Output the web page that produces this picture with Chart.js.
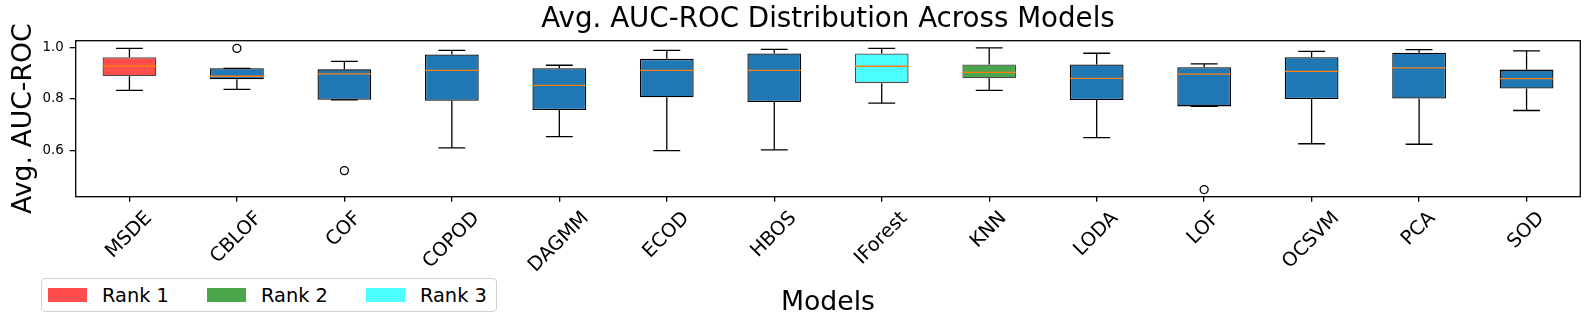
<!DOCTYPE html>
<html>
<head>
<meta charset="utf-8">
<script src="https://cdn.jsdelivr.net/npm/chart.js@4.4.0/dist/chart.umd.min.js"></script>
<style>
  html, body { margin: 0; padding: 0; background: #fff; }
  #wrap { position: relative; width: 1590px; height: 326px; }
  #legend {
    position: absolute; left: 41px; top: 278px; width: 456px; height: 34px; box-sizing: border-box;
    border: 1px solid #d0d0d0; border-radius: 4px; background: #fff;
    display: flex; align-items: center; padding: 0 0 0 6px;
    font-family: 'DejaVu Sans'; font-size: 19.4px; color: #000;
  }
  .item { display: flex; align-items: center; margin-right: 38px; }
  .item:last-child { margin-right: 0; }
  .sw { width: 39px; height: 14px; margin-right: 15px; }
</style>
</head>
<body>
<div id="wrap">
  <canvas id="chart" width="1590" height="326"></canvas>
  <div id="legend"></div>
</div>
<script>
// Avg. AUC-ROC box plot per model

const models = ['MSDE', 'CBLOF', 'COF', 'COPOD', 'DAGMM', 'ECOD', 'HBOS', 'IForest', 'KNN', 'LODA', 'LOF', 'OCSVM', 'PCA', 'SOD'];
const whiskerLow  = [0.834, 0.838, 0.797, 0.609, 0.653, 0.598, 0.601, 0.784, 0.834, 0.649, 0.771, 0.625, 0.623, 0.755];
const q1          = [0.889, 0.877, 0.797, 0.793, 0.757, 0.807, 0.788, 0.862, 0.881, 0.796, 0.771, 0.800, 0.802, 0.841];
const medians     = [0.928, 0.889, 0.898, 0.912, 0.853, 0.912, 0.912, 0.928, 0.904, 0.881, 0.897, 0.908, 0.922, 0.880];
const q3          = [0.963, 0.920, 0.916, 0.974, 0.920, 0.957, 0.978, 0.978, 0.935, 0.935, 0.924, 0.963, 0.981, 0.915];
const whiskerHigh = [0.998, 0.920, 0.947, 0.990, 0.932, 0.990, 0.994, 0.998, 1.000, 0.979, 0.937, 0.986, 0.993, 0.988];
const outlierModels = ['CBLOF', 'COF', 'LOF'];
const outlierValues = [0.998, 0.520, 0.446];
const yTicks = [0.6, 0.8, 1.0];

const rankModels = ['MSDE', 'KNN', 'IForest'];
const rankLabels = ['Rank 1', 'Rank 2', 'Rank 3'];
const rankColors = ['rgba(255,0,0,0.7)', 'rgba(0,128,0,0.7)', 'rgba(0,255,255,0.7)'];
const defaultColor = '#1f77b4';

const FONT = 'DejaVu Sans';
const XTICK_SIZE = 19.4;
Chart.defaults.font.family = FONT;
Chart.defaults.color = '#000';

const boxFill = models.map(m => {
  const r = rankModels.indexOf(m);
  return r >= 0 ? rankColors[r] : defaultColor;
});
const boxEdge = models.map(m => rankModels.includes(m) ? 'rgba(0,0,0,0.7)' : '#000');

// whiskers, caps, medians, frame and rotated x labels
const boxExtras = {
  id: 'boxExtras',
  afterDatasetsDraw(chart) {
    const { ctx, chartArea: a, scales: { x, y } } = chart;
    const bars = chart.getDatasetMeta(0).data;
    ctx.save();
    ctx.lineWidth = 1.3;
    models.forEach((m, i) => {
      const cx = bars[i].x;
      const half = bars[i].width / 2;
      const cap = half / 2;
      const yHi = y.getPixelForValue(whiskerHigh[i]);
      const yLo = y.getPixelForValue(whiskerLow[i]);
      ctx.strokeStyle = '#000';
      ctx.beginPath();
      ctx.moveTo(cx, y.getPixelForValue(q3[i])); ctx.lineTo(cx, yHi);
      ctx.moveTo(cx, y.getPixelForValue(q1[i])); ctx.lineTo(cx, yLo);
      ctx.moveTo(cx - cap, yHi); ctx.lineTo(cx + cap, yHi);
      ctx.moveTo(cx - cap, yLo); ctx.lineTo(cx + cap, yLo);
      ctx.stroke();
      const ym = y.getPixelForValue(medians[i]);
      ctx.strokeStyle = '#ff7f0e';
      ctx.beginPath();
      ctx.moveTo(cx - half, ym); ctx.lineTo(cx + half, ym);
      ctx.stroke();
    });

    ctx.strokeStyle = '#000';
    ctx.strokeRect(a.left, a.top, a.right - a.left, a.bottom - a.top);

    // 45deg labels, rotated box centred under the tick, top just below the tick mark
    ctx.font = XTICK_SIZE + 'px "' + FONT + '"';
    ctx.fillStyle = '#000';
    ctx.textAlign = 'center';
    ctx.textBaseline = 'alphabetic';
    const lineH = XTICK_SIZE * 1.17;
    const top = a.bottom + 10;
    models.forEach((m, i) => {
      const w = ctx.measureText(m).width;
      const side = (w + lineH) * Math.SQRT1_2;
      ctx.save();
      ctx.translate(x.getPixelForValue(i) - 1, top + side / 2);
      ctx.rotate(-Math.PI / 4);
      ctx.fillText(m, 0, XTICK_SIZE * 0.3);
      ctx.restore();
    });
    ctx.restore();
  }
};

new Chart(document.getElementById('chart'), {
  type: 'bar',
  data: {
    labels: models,
    datasets: [
      {
        data: models.map((m, i) => [q1[i], q3[i]]),
        backgroundColor: boxFill,
        borderColor: boxEdge,
        borderWidth: 1.3,
        borderSkipped: false,
        categoryPercentage: 1,
        barPercentage: 0.5,
      },
      {
        type: 'scatter',
        data: outlierModels.map((m, i) => ({ x: m, y: outlierValues[i] })),
        pointRadius: 4,
        pointBorderWidth: 1.3,
        pointBorderColor: '#000',
        pointBackgroundColor: 'rgba(0,0,0,0)',
      },
    ],
  },
  options: {
    responsive: false,
    animation: false,
    events: [],
    layout: { padding: { left: 0, right: 9.7, top: 0, bottom: 0 } },
    plugins: {
      legend: { display: false },
      tooltip: { enabled: false },
      title: {
        display: true,
        fullSize: false,
        text: 'Avg. AUC-ROC Distribution Across Models',
        color: '#000',
        font: { size: 27.7, weight: 'normal' },
        padding: { top: 3.5, bottom: 3.96 },
      },
    },
    scales: {
      x: {
        type: 'category',
        offset: true,
        border: { display: false },
        grid: { offset: false, drawOnChartArea: false, drawTicks: true, tickLength: 5, color: '#000', lineWidth: 1.3 },
        ticks: { display: false },
        title: { display: true, text: 'Models', color: '#000', font: { size: 26.7 }, padding: { top: 0, bottom: 7 } },
        afterFit: axis => { axis.height = 129.3; },
      },
      y: {
        type: 'linear',
        min: 0.418,
        max: 1.028,
        border: { display: false },
        grid: { drawOnChartArea: false, drawTicks: true, tickLength: 6, color: '#000', lineWidth: 1.3 },
        ticks: { color: '#000', font: { size: 13.3 }, padding: 6, callback: v => v.toFixed(1) },
        afterBuildTicks: axis => { axis.ticks = yTicks.map(v => ({ value: v })); },
        title: { display: true, text: 'Avg. AUC-ROC', color: '#000', font: { size: 26.7 }, padding: { top: 8, bottom: 0 } },
        afterFit: axis => { axis.width = 75.7; },
      },
    },
  },
  plugins: [boxExtras],
});

// legend
document.getElementById('legend').innerHTML = rankLabels.map((l, i) =>
  `<div class="item"><span class="sw" style="background:${rankColors[i]}"></span><span>${l}</span></div>`
).join('');
</script>
</body>
</html>
